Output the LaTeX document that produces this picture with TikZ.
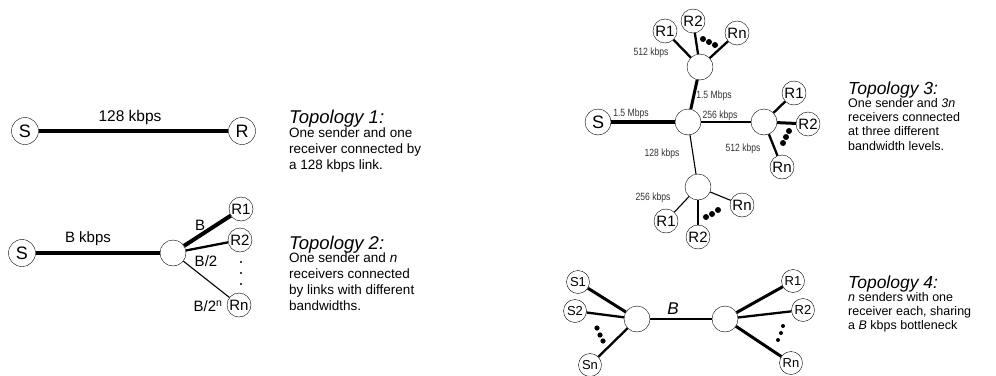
\documentclass[tikz,border=0pt]{standalone}
\usepackage{fontspec}
\setmainfont{Liberation Sans}
\newfontfamily\narrowfont[FakeStretch=0.82]{Liberation Sans}
\usepackage{tikz}

\begin{document}
\begin{tikzpicture}[x=1pt,y=-1pt]
    \useasboundingbox (0,0) rectangle (996,375);

    \tikzstyle{every node}=[draw,circle,minimum size=24pt,inner sep=0pt,font=\fontsize{15}{15}\selectfont]
    \tikzstyle{big}=[minimum size=27pt,font=\fontsize{18}{18}\selectfont]
    \tikzstyle{small}=[minimum size=23pt,font=\fontsize{13}{13}\selectfont]
    \tikzstyle{hub}=[minimum size=26pt]
    \tikzstyle{heavy}=[line width=4pt]
    \tikzstyle{strong}=[line width=3pt]
    \tikzstyle{mid}=[line width=2.3pt]
    \tikzstyle{thin1}=[line width=1.1pt]

    % topology 1
    \node[big](s1) at (25,131){S};
    \node[big](r1) at (242,131){R};
    \draw[heavy](s1)--(r1);

    % topology 2
    \node[big](s2) at (22,253){S};
    \node[hub](h2) at (173,253){};
    \node(r21) at (241,209){R1};
    \node(r22) at (240,240){R2};
    \node(r2n) at (239,305){Rn};
    \draw[heavy](s2)--(h2);
    \draw[heavy](h2)--(r21);
    \draw[mid](h2)--(r22);
    \draw[thin1](h2)--(r2n);
    \fill (241,262) circle (1.2);
    \fill (241,273) circle (1.2);
    \fill (241,284) circle (1.2);

    % topology 3
    \node[big,minimum size=26pt](s3) at (598,122){S};
    \node[hub](c3) at (688,122){};
    \node[hub](u3) at (700,67){};
    \node[hub](e3) at (764,122){};
    \node[hub](d3) at (698,187){};
    \node(u3r1) at (665,31){R1};
    \node(u3r2) at (693,21){R2};
    \node(u3rn) at (737,33){Rn};
    \node(e3r1) at (794,93){R1};
    \node(e3r2) at (808,124){R2};
    \node(e3rn) at (782,167){Rn};
    \node(d3r1) at (666,221){R1};
    \node(d3r2) at (698,237){R2};
    \node(d3rn) at (742,205){Rn};
    \draw[heavy](s3)--(c3);
    \draw[strong](c3)--(u3);
    \draw[thin1](c3)--(e3);
    \draw[thin1](c3)--(d3);
    \draw[mid](u3)--(u3r1);
    \draw[mid](u3)--(u3r2);
    \draw[mid](u3)--(u3rn);
    \draw[mid](e3)--(e3r1);
    \draw[strong](e3)--(e3r2);
    \draw[mid](e3)--(e3rn);
    \draw[thin1](d3)--(d3r1);
    \draw[thin1](d3)--(d3r2);
    \draw[thin1](d3)--(d3rn);
    \fill (703,39) circle (3);
    \fill (709,42) circle (3);
    \fill (715,45) circle (3);
    \fill (789,131) circle (3);
    \fill (786,137) circle (3);
    \fill (783,143) circle (3);
    \fill (706,217) circle (3);
    \fill (712,214) circle (3);
    \fill (718,210) circle (3);

    % topology 4
    \node[small](s41) at (578,282){S1};
    \node[small](s42) at (575,311){S2};
    \node[small](s4n) at (590,365){Sn};
    \node[hub](l4) at (637,319){};
    \node[hub](m4) at (725,319){};
    \node[small](r41) at (793,281){R1};
    \node[small](r42) at (803,310){R2};
    \node[small](r4n) at (791,363){Rn};
    \draw[strong](s41)--(l4);
    \draw[mid](s42)--(l4);
    \draw[mid](s4n)--(l4);
    \draw[thin1](l4)--(m4);
    \draw[strong](m4)--(r41);
    \draw[mid](m4)--(r42);
    \draw[strong](m4)--(r4n);
    \fill (597,328) circle (2.6);
    \fill (600,335) circle (2.6);
    \fill (603,341) circle (2.6);
    \fill (783,326) circle (2);
    \fill (781,333) circle (2);
    \fill (778,340) circle (2);

  \tikzstyle{every node}=[]
    \tikzstyle{lbl}=[font=\fontsize{15}{15}\selectfont]
    \tikzstyle{bw}=[font=\narrowfont\fontsize{10.5}{10.5}\selectfont,text=black!80]
    \tikzstyle{ttl}=[anchor=base west,inner sep=0pt,font=\fontsize{18.5}{19}\selectfont\itshape]
    \tikzstyle{captxt}=[anchor=north west,align=left,inner sep=0pt,font=\fontsize{13.5}{16}\selectfont]
    \tikzstyle{captxtb}=[anchor=north west,align=left,inner sep=0pt,font=\fontsize{12.5}{14.3}\selectfont]

    % link labels
    \node[lbl,font=\fontsize{15.5}{16}\selectfont](l1) at (130,117){128 kbps};
    \node[lbl](l2) at (88,239){B kbps};
    \node[lbl](l3) at (200,225){B};
    \node[lbl](l4a) at (206,261){B/2};
    \node[lbl](l5) at (208,306){B/2\textsuperscript{n}};
    \node[bw](l6) at (631,114){1.5 Mbps};
    \node[bw](l7) at (714,96){1.5 Mbps};
    \node[bw](l8) at (720,116){256 kbps};
    \node[bw](l9) at (651,53){512 kbps};
    \node[bw](l10) at (743,149){512 kbps};
    \node[bw](l11) at (662,154){128 kbps};
    \node[bw](l12) at (653,198){256 kbps};
    \node[lbl,font=\fontsize{17}{17}\selectfont\itshape](l13) at (673,309){B};

    % captions
    \node[ttl](t1) at (289,123){Topology 1:};
    \node[captxt](c1) at (289,128){One sender and one\\receiver connected by\\a 128 kbps link.};
    \node[ttl](t2) at (289,249){Topology 2:};
    \node[captxt](c2) at (289,253){One sender and \textit{n}\\receivers connected\\by links with different\\bandwidths.};
    \node[ttl,font=\fontsize{17.5}{18}\selectfont\itshape](t3) at (848,94){Topology 3:};
    \node[captxtb](c3b) at (848,98){One sender and \textit{3n}\\receivers connected\\at three different\\bandwidth levels.};
    \node[ttl,font=\fontsize{17.5}{18}\selectfont\itshape](t4) at (848,288){Topology 4:};
    \node[captxtb](c4) at (848,292){\textit{n} senders with one\\receiver each, sharing\\a \textit{B} kbps bottleneck};

\end{tikzpicture}
\end{document}
